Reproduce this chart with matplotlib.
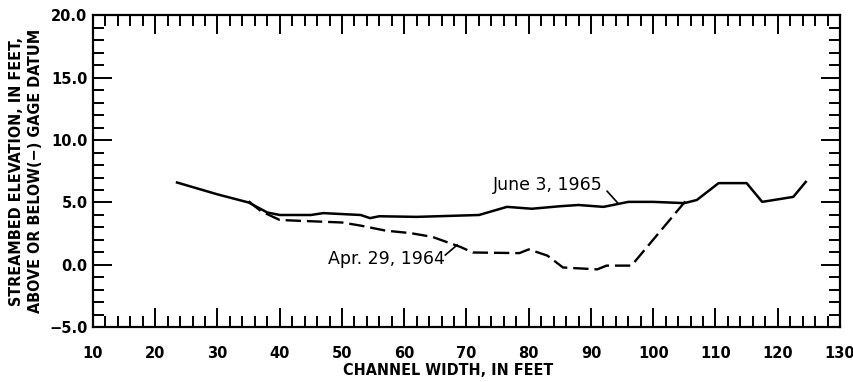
import numpy as np
import matplotlib.pyplot as plt
from matplotlib.ticker import MultipleLocator

plt.rcParams['font.family'] = ['DejaVu Sans']

# streambed profiles, channel width (ft) vs elevation (ft)
width_1965 = [23.5, 30, 35, 38, 40, 45, 47, 53, 54.5, 56, 62, 72, 76.5, 80.5,
              85, 88, 92, 96, 100, 105, 107, 110.5, 115, 117.5, 122.5, 124.5]
elev_1965 = [6.6, 5.65, 5.0, 4.2, 4.0, 4.0, 4.15, 4.0, 3.75, 3.9, 3.85, 4.0, 4.65, 4.5,
             4.7, 4.8, 4.65, 5.05, 5.05, 4.95, 5.2, 6.55, 6.55, 5.05, 5.45, 6.65]

width_1964 = [35, 37, 40, 45, 50, 53, 57, 61, 64.5, 69, 71, 78.5, 80, 83,
              85.5, 91, 92.5, 96.5, 105.5]
elev_1964 = [5.1, 4.3, 3.6, 3.5, 3.4, 3.15, 2.75, 2.55, 2.25, 1.45, 1.0, 0.95, 1.25, 0.75,
             -0.2, -0.35, -0.05, -0.05, 5.3]

fig = plt.figure(figsize=(8.54, 3.82), dpi=100)
ax = fig.add_axes([0.1089, 0.1427, 0.8747, 0.818])

ax.plot(width_1965, elev_1965, color='black', lw=1.8, solid_joinstyle='round')
ax.plot(width_1964, elev_1964, color='black', lw=1.7, dashes=(6.5, 2.5))

ax.set_xlim(10, 130)
ax.set_ylim(-5, 20)
ax.xaxis.set_major_locator(MultipleLocator(10))
ax.xaxis.set_minor_locator(MultipleLocator(2))
ax.yaxis.set_major_locator(MultipleLocator(5))
ax.yaxis.set_minor_locator(MultipleLocator(1))
ax.set_yticks(np.arange(-5, 20.1, 5))
ax.set_yticklabels(['\u22125.0', '0.0', '5.0', '10.0', '15.0', '20.0'])

ax.tick_params(which='both', direction='in', top=True, right=True, width=1.4, color='black')
ax.tick_params(which='major', length=14)
ax.tick_params(which='minor', length=8)
ax.tick_params(axis='x', which='major', pad=13)
ax.tick_params(axis='y', which='major', pad=4)
for lab in ax.get_xticklabels() + ax.get_yticklabels():
    lab.set_fontweight('bold')
    lab.set_fontsize(10.5)
for sp in ax.spines.values():
    sp.set_linewidth(1.6)

lbl_font = dict(fontsize=11.5, fontweight='bold', fontstretch='condensed')
ax.set_xlabel('CHANNEL WIDTH, IN FEET', **lbl_font)
ax.xaxis.set_label_coords(0.475, -0.115)
ax.set_ylabel('STREAMBED ELEVATION, IN FEET,\nABOVE OR BELOW(\u2212) GAGE DATUM',
              linespacing=1.3, **lbl_font)
ax.yaxis.set_label_coords(-0.067, 0.5)

# curve labels with leader lines
ax.text(74.3, 6.4, 'June 3, 1965', fontsize=12.5, va='center', ha='left')
ax.plot([92.6, 94.3], [5.9, 4.96], color='black', lw=1.2)
ax.text(47.7, 0.48, 'Apr. 29, 1964', fontsize=12.5, va='center', ha='left')
ax.plot([66.6, 68.5], [0.8, 1.6], color='black', lw=1.2)

fig.savefig('out.png', dpi=100)
